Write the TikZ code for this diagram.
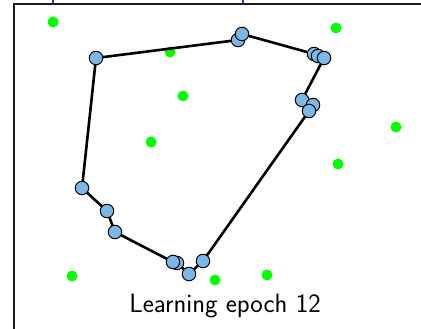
\documentclass[tikz,border=0pt]{standalone}
\usepackage{tikz}
\usetikzlibrary{positioning}

\begin{document}
\begin{tikzpicture}[
  x=1pt, y=-1pt,
  neuron/.style={circle, draw=black, fill=cyan!45!white!85!blue, line width=1pt, minimum size=13.5pt, inner sep=0pt},
  sample/.style={circle, fill=green, minimum size=11pt, inner sep=0pt},
  edge/.style={line width=2.6pt, black},
  frameline/.style={line width=1.6pt, black!90},
  tick/.style={line width=2pt, blue!70!black!80}
]
\useasboundingbox (0,0) rectangle (421,329);

% ---------- Frame ----------
\draw[frameline] (14,329) -- (14,4) -- (421,4);
\draw[tick] (53,0) -- (53,3);
\draw[tick] (243,0) -- (243,3);

% ---------- Training samples ----------
\node[sample] (s1)  at (53,22)   {};
\node[sample] (s2)  at (170,52)  {};
\node[sample] (s3)  at (336,28)  {};
\node[sample] (s4)  at (183,96)  {};
\node[sample] (s5)  at (151,142) {};
\node[sample] (s6)  at (396,127) {};
\node[sample] (s7)  at (338,164) {};
\node[sample] (s8)  at (72,276)  {};
\node[sample] (s9)  at (215,280) {};
\node[sample] (s10) at (267,275) {};

% ---------- Ring positions ----------
\coordinate (p1)  at (96,58);
\coordinate (p2)  at (238,40);
\coordinate (p3)  at (242,34);
\coordinate (p4)  at (314,54);
\coordinate (p5)  at (318,56);
\coordinate (p6)  at (324,58);
\coordinate (p7)  at (302,100);
\coordinate (p8)  at (313,105);
\coordinate (p9)  at (309,111);
\coordinate (p10) at (203,261);
\coordinate (p11) at (189,274);
\coordinate (p12) at (177,263);
\coordinate (p13) at (173,262);
\coordinate (p14) at (115,232);
\coordinate (p15) at (107,211);
\coordinate (p16) at (82,188);

% ---------- Ring ----------
\draw[edge, line join=round] (p1) -- (p2) -- (p3) -- (p4) -- (p5) -- (p6) -- (p7) -- (p8) -- (p9)
  -- (p10) -- (p11) -- (p12) -- (p13) -- (p14) -- (p15) -- (p16) -- cycle;
\foreach \i in {1,...,16}
  \node[neuron] (n\i) at (p\i) {};

% ---------- Caption ----------
\node[font=\sffamily\fontsize{26.5}{30}\selectfont] (cap) at (225,306) {Learning epoch 12};
\end{tikzpicture}
\end{document}
